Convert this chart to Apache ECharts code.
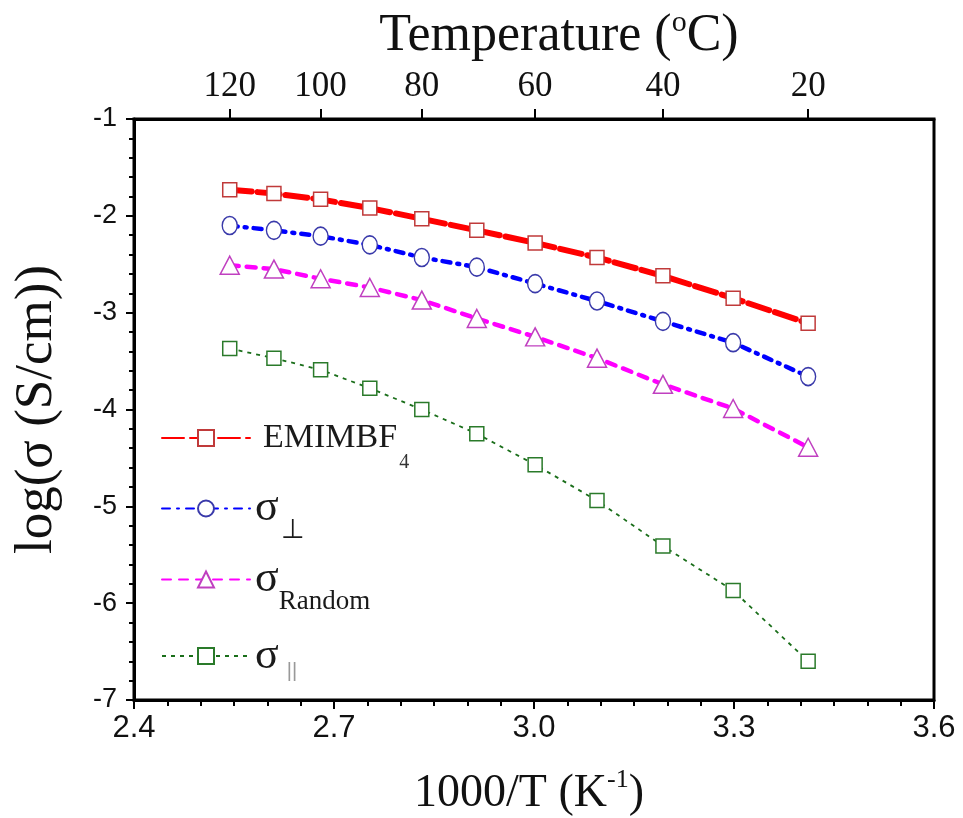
<!DOCTYPE html>
<html>
<head>
<meta charset="utf-8">
<script src="https://cdn.jsdelivr.net/npm/echarts@6/dist/echarts.min.js"></script>
<style>html,body{margin:0;padding:0;background:#fff}#c{width:963px;height:818px}</style>
</head>
<body>
<div id="c"></div>
<script>
// Data: x = 1000/T (K^-1), y = log(sigma (S/cm))
const invT = [2.5436, 2.6099, 2.6799, 2.7537, 2.8317, 2.9142, 3.0017, 3.0945, 3.1934, 3.2987, 3.4112];
const emimbf4 = [-1.73, -1.77, -1.83, -1.92, -2.03, -2.15, -2.28, -2.43, -2.62, -2.85, -3.11];
const sigmaPerp = [-2.10, -2.15, -2.21, -2.30, -2.43, -2.53, -2.70, -2.88, -3.09, -3.31, -3.66];
const sigmaRandom = [-2.51, -2.55, -2.65, -2.74, -2.87, -3.06, -3.25, -3.47, -3.74, -3.99, -4.39];
const sigmaPar = [-3.37, -3.47, -3.59, -3.78, -4.00, -4.25, -4.57, -4.94, -5.41, -5.87, -6.60];
// Top axis tick labels (temperature, °C)
const topTemps = [120, 100, 80, 60, 40, 20];

const pairs = ys => invT.map((x, i) => [x, ys[i]]);
const topTickVals = topTemps.map(t => 1000 / (t + 273.15));

const serif = '"Liberation Serif","Times New Roman",serif';
const sans = '"Liberation Sans",Arial,sans-serif';
const narrow = '"Liberation Sans Narrow","Arial Narrow","Liberation Sans",sans-serif';

const chart = echarts.init(document.getElementById('c'));
const legendNames = {
  'EMIMBF4': '{m|EMIMBF}{ms|4}',
  'perp': '{g|σ}{gs|⊥}',
  'random': '{g|σ}{gr|Random}',
  'par': '{g|σ}{gp|||}'
};

chart.setOption({
  animation: false,
  backgroundColor: '#fff',
  grid: { left: 134, top: 119, width: 800, height: 581, show: true, borderColor: '#000', borderWidth: 3,
    backgroundColor: 'transparent', containLabel: false, outerBoundsMode: 'none' },
  legend: {
    orient: 'vertical', left: 156, top: 398,
    itemWidth: 88, itemHeight: 20, itemGap: 0,
    data: ['EMIMBF4', 'perp', 'random', 'par'],
    formatter: n => legendNames[n],
    textStyle: {
      color: '#1a1a1a',
      rich: {
        m: { fontFamily: serif, fontSize: 34, color: '#1a1a1a', lineHeight: 36, padding: [0, 0, 0, 8] },
        ms: { fontFamily: serif, fontSize: 20, color: '#333', lineHeight: 20, padding: [50, 0, 0, 2] },
        g: { fontFamily: serif, fontSize: 44, color: '#1a1a1a', lineHeight: 40 },
        gs: { fontFamily: serif, fontSize: 27, color: '#1a1a1a', lineHeight: 26, padding: [44, 0, 0, 2] },
        gr: { fontFamily: serif, fontSize: 27, color: '#1a1a1a', lineHeight: 26, padding: [44, 0, 0, 0] },
        gp: { fontFamily: sans, fontSize: 20, color: '#999', lineHeight: 22, padding: [46, 0, 16, 8] }
      }
    }
  },
  xAxis: [{
    type: 'value', position: 'bottom', min: 2.4, max: 3.6, interval: 0.3,
    axisLine: { onZero: false, lineStyle: { color: '#000', width: 3 } },
    axisTick: { length: 9, lineStyle: { color: '#000', width: 2 } },
    minorTick: { show: true, splitNumber: 6, length: 6, lineStyle: { color: '#000', width: 2 } },
    splitLine: { show: false },
    axisLabel: { margin: 13, fontFamily: narrow, fontSize: 31, color: '#111', formatter: v => v.toFixed(1) },
    name: '{t|1000/T (K}{p|-1}{t|)}', nameLocation: 'middle', nameGap: 70,
    nameTextStyle: { padding: [0, 10, 0, 0], rich: {
      t: { fontFamily: serif, fontSize: 46, color: '#111', lineHeight: 48 },
      p: { fontFamily: serif, fontSize: 26, color: '#111', lineHeight: 26, padding: [0, 0, 28, 0] }
    } }
  }, {
    type: 'value', position: 'top', min: 2.4, max: 3.6,
    axisLine: { onZero: false, lineStyle: { color: '#000', width: 3 } },
    axisTick: { show: true, length: 10, customValues: topTickVals, lineStyle: { color: '#000', width: 2 } },
    splitLine: { show: false },
    axisLabel: { show: true, margin: 15, customValues: topTickVals, fontFamily: serif, fontSize: 35, color: '#111',
      formatter: v => String(Math.round(1000 / v - 273.15)) },
    name: '{t|Temperature (}{p|o}{t|C)}', nameLocation: 'middle', nameGap: 56,
    nameTextStyle: { padding: [0, 0, 0, 50], rich: {
      t: { fontFamily: serif, fontSize: 52, color: '#111', lineHeight: 52 },
      p: { fontFamily: serif, fontSize: 30, color: '#111', lineHeight: 28, padding: [0, 0, 26, 0] }
    } }
  }],
  yAxis: [{
    type: 'value', min: -7, max: -1, interval: 1,
    axisLine: { onZero: false, lineStyle: { color: '#000', width: 3 } },
    axisTick: { length: 8, lineStyle: { color: '#000', width: 2 } },
    minorTick: { show: true, splitNumber: 5, length: 5, lineStyle: { color: '#000', width: 2 } },
    splitLine: { show: false },
    axisLabel: { margin: 17, fontFamily: sans, fontSize: 27, color: '#111' },
    name: 'log(σ (S/cm))', nameLocation: 'middle', nameGap: 70, nameRotate: 90,
    nameTextStyle: { fontFamily: serif, fontSize: 53, color: '#111' }
  }],
  series: [
    { name: 'EMIMBF4', type: 'line', xAxisIndex: 0, data: pairs(emimbf4),
      symbol: 'rect', symbolSize: 14,
      lineStyle: { color: '#ff0000', width: 6, type: [22, 6], cap: 'round' },
      itemStyle: { color: '#fff', borderColor: '#c03a3a', borderWidth: 1.5 }, z: 5 },
    { name: 'perp', type: 'line', data: pairs(sigmaPerp),
      symbol: 'circle', symbolSize: [15, 18],
      lineStyle: { color: '#0000ff', width: 4.5, type: [8, 7, 2, 7], cap: 'round' },
      itemStyle: { color: '#fff', borderColor: '#3a3aaa', borderWidth: 1.5 }, z: 4 },
    { name: 'random', type: 'line', data: pairs(sigmaRandom),
      symbol: 'triangle', symbolSize: [19, 18],
      lineStyle: { color: '#ff00ff', width: 4.5, type: [9, 8], cap: 'round' },
      itemStyle: { color: '#fff', borderColor: '#c040c0', borderWidth: 1.5 }, z: 3 },
    { name: 'par', type: 'line', data: pairs(sigmaPar),
      symbol: 'rect', symbolSize: 14,
      lineStyle: { color: '#1a6e1a', width: 1.8, type: [4, 5] },
      itemStyle: { color: '#fff', borderColor: '#2a7a2a', borderWidth: 1.5 }, z: 2 }
  ]
});
</script>
</body>
</html>
